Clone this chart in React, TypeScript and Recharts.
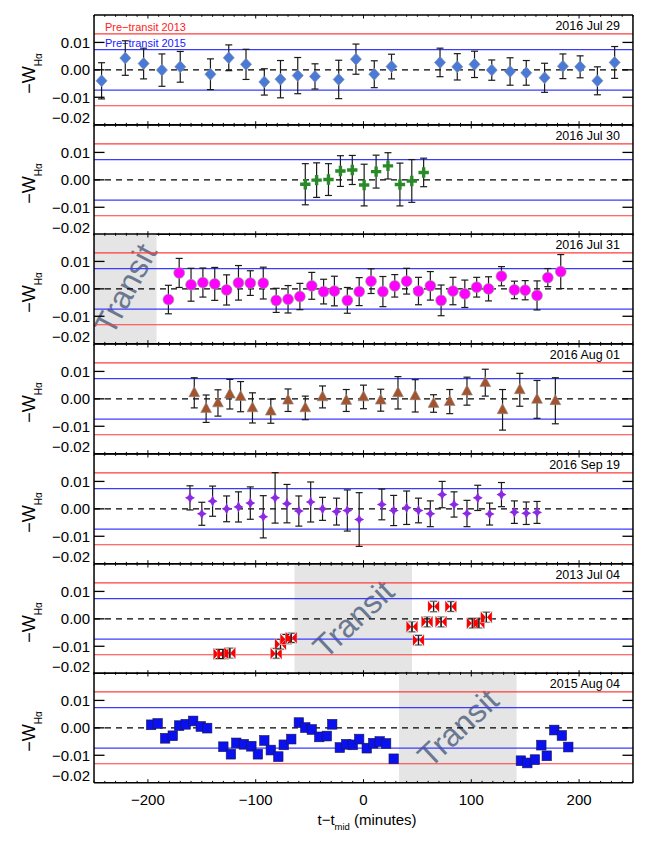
import React from "react";
import {
  ScatterChart,
  Scatter,
  XAxis,
  YAxis,
  ErrorBar,
  ReferenceLine,
  ReferenceArea,
  Label,
} from "recharts";

// ---------------- data ----------------
const TIME_DOMAIN = [-250, 250];
const WHA_DOMAIN = [-0.02, 0.02];
const TIME_MAJOR_TICKS = [-200, -100, 0, 100, 200];
const TIME_MAJOR_LABELS = ["\u2212200", "\u2212100", "0", "100", "200"];
const TIME_MINOR_TICKS = Array.from({ length: 51 }, (_, i) => -250 + 10 * i);
const WHA_TICKS = [-0.02, -0.01, 0, 0.01];
const WHA_TICK_LABELS = ["\u22120.02", "\u22120.01", "0.00", "0.01"];
const PRE_TRANSIT_2013 = 0.0131;
const PRE_TRANSIT_2015 = 0.0074;

const PANEL_TITLES = [
  "2016 Jul 29",
  "2016 Jul 30",
  "2016 Jul 31",
  "2016 Aug 01",
  "2016 Sep 19",
  "2013 Jul 04",
  "2015 Aug 04",
];

const JUL29_T = [-243, -221, -204, -187, -170, -142, -125, -109, -92, -77, -61, -45, -23, -7, 10, 26, 71, 87, 103, 119, 136, 151, 168, 185, 201, 217, 233];
const JUL29_W = [-0.004, 0.0043, 0.0023, -0.0001, 0.0011, -0.0016, 0.0044, 0.002, -0.0044, -0.0034, -0.0021, -0.0024, -0.0035, 0.0039, -0.0016, 0.0012, 0.0027, 0.0011, 0.002, -0.0001, -0.0006, -0.0011, -0.0029, 0.0013, 0.0011, -0.004, 0.0027];
const JUL29_E = [0.0066, 0.0063, 0.0056, 0.0059, 0.0056, 0.0056, 0.0047, 0.0055, 0.0048, 0.0068, 0.0066, 0.0046, 0.007, 0.0055, 0.0049, 0.0045, 0.0052, 0.0048, 0.0048, 0.0037, 0.005, 0.0045, 0.0053, 0.0045, 0.004, 0.0051, 0.0058];

const JUL30_T = [-54, -43.5, -32.5, -21.4, -10.4, 0.6, 11.7, 22.7, 33.8, 44.8, 55.8];
const JUL30_W = [-0.0016, -0.0001, 0.0001, 0.0032, 0.0036, -0.0019, 0.003, 0.0051, -0.0017, -0.0004, 0.0027];
const JUL30_E = [0.0075, 0.0063, 0.0058, 0.0056, 0.0053, 0.0076, 0.006, 0.0048, 0.0078, 0.0078, 0.0052];

const JUL31_T = [-181, -171, -160, -149, -138, -127, -116, -105, -93, -81, -70, -59, -48, -37, -27, -15, -4, 7, 18, 29, 40, 51, 62, 72, 83, 94, 105, 116, 128, 140, 150, 161, 171, 183];
const JUL31_W = [-0.0039, 0.0058, 0.0015, 0.0023, 0.0018, -0.0004, 0.0022, 0.0021, 0.0021, -0.0042, -0.0038, -0.0028, 0.0011, -0.001, -0.0008, -0.0042, -0.001, 0.0028, -0.001, 0.0011, 0.0028, -0.0008, 0.0011, -0.0042, -0.0008, -0.0018, 0.0006, 0.0, 0.0046, -0.0004, -0.0005, -0.0024, 0.0041, 0.0063];
const JUL31_E = [0.0052, 0.0053, 0.006, 0.0053, 0.006, 0.0055, 0.0063, 0.0045, 0.0058, 0.0044, 0.005, 0.0048, 0.0049, 0.0045, 0.0054, 0.0047, 0.0051, 0.0045, 0.0055, 0.0041, 0.0047, 0.005, 0.0052, 0.0056, 0.005, 0.005, 0.0036, 0.0044, 0.0035, 0.0032, 0.0035, 0.0053, 0.0033, 0.0062];

const AUG01_T = [-157, -146, -135, -124, -114, -103, -86, -70, -54, -38, -16, 0, 16, 32, 48, 65, 80, 96, 113, 129, 145, 161, 178];
const AUG01_W = [0.0022, -0.0036, -0.0015, 0.0017, 0.0008, -0.0033, -0.0045, -0.0005, -0.0033, 0.0007, -0.0006, 0.0007, -0.0005, 0.0022, 0.0011, -0.0017, -0.001, 0.0028, 0.0059, -0.004, 0.0033, -0.0002, -0.0007];
const AUG01_E = [0.0055, 0.005, 0.0048, 0.0054, 0.0055, 0.0055, 0.0044, 0.0041, 0.0043, 0.004, 0.004, 0.0043, 0.004, 0.0059, 0.0059, 0.0032, 0.0044, 0.0051, 0.0049, 0.0074, 0.006, 0.0069, 0.0084];

const SEP19_T = [-161, -150, -140, -127, -116, -105, -93, -82, -71, -60, -49, -38, -25, -15, -4, 17, 28, 40, 51, 62, 73, 84, 96, 106, 117, 128, 140, 151, 161];
const SEP19_W = [0.004, -0.0018, 0.0028, 0.0, 0.0007, 0.0021, -0.0029, 0.004, 0.0019, -0.0008, 0.0025, 0.0, -0.001, -0.0006, -0.0039, 0.0016, -0.0006, 0.0004, -0.0006, -0.0018, 0.0052, 0.0016, -0.0017, 0.004, -0.0019, 0.0052, -0.0012, -0.0016, -0.0013];
const SEP19_E = [0.0044, 0.0042, 0.0055, 0.0047, 0.0055, 0.0059, 0.0077, 0.0092, 0.007, 0.0055, 0.0073, 0.0042, 0.0049, 0.0075, 0.0098, 0.0056, 0.0055, 0.0061, 0.0045, 0.0047, 0.0048, 0.0046, 0.0048, 0.0046, 0.004, 0.0044, 0.0041, 0.0041, 0.004];

const JUL04_2013_T = [-134, -130.5, -124, -81, -77, -72, -67, 45, 51, 59, 65, 72, 81, 101, 107, 114];
const JUL04_2013_W = [-0.0128, -0.0128, -0.0125, -0.0126, -0.0093, -0.0074, -0.0069, -0.0029, -0.0078, -0.0011, 0.0045, -0.0011, 0.0045, -0.0016, -0.0015, 0.0006];
const JUL04_2013_E = [0.0017, 0.0017, 0.0019, 0.0018, 0.0018, 0.0017, 0.0017, 0.0019, 0.0018, 0.0019, 0.0019, 0.0019, 0.0018, 0.0018, 0.0019, 0.0019];

const AUG04_2015_T = [-197, -191, -184, -177, -171, -165, -158, -151, -145, -130, -123, -118, -111, -104, -98, -92, -86, -79, -74, -67, -60, -54, -48, -41, -34, -29, -22, -16, -10, -4, 3, 9, 15, 21, 28, 146, 152, 159, 165, 170, 177, 184, 190];
const AUG04_2015_W = [0.0011, 0.0016, -0.0038, -0.0029, 0.0008, 0.0013, 0.0025, 0.0005, -0.0001, -0.0069, -0.0096, -0.0055, -0.006, -0.0067, -0.0096, -0.0046, -0.0081, -0.0105, -0.0062, -0.0041, 0.0019, 0.0001, -0.0006, -0.0033, -0.003, 0.0013, -0.0072, -0.006, -0.0062, -0.0041, -0.0074, -0.0056, -0.005, -0.0057, -0.0113, -0.012, -0.0128, -0.0116, -0.0063, -0.0102, -0.0008, -0.0028, -0.007];

const TRANSIT_JUL31 = [-250, -192];
const TRANSIT_2013 = [-64, 45];
const TRANSIT_2015 = [33, 142];

// ---------------- layout ----------------
const FONT = "'Liberation Sans', Arial, Helvetica, sans-serif";
const CHART_W = 649;
const LEFT_AXIS_W = 94;
const RIGHT_MARGIN = 15;
const PLOT_TOP = 15;
const PANEL_H = 109.7;
const TOP_AX = 1;
const BOTTOM_AX_MID = 1;
const BOTTOM_AX_LAST = 64;

type Pt = { t: number; w: number; e?: number };
function build(t: number[], w: number[], e?: number[]): Pt[] {
  return t.map((tv, i) => ({ t: tv, w: w[i], e: e ? e[i] : undefined }));
}

// ---------------- marker shapes ----------------
const Diamond = (p: any) => {
  const { cx, cy } = p;
  return (
    <path
      d={`M${cx} ${cy - 6}L${cx + 5.5} ${cy}L${cx} ${cy + 6}L${cx - 5.5} ${cy}Z`}
      fill="#4a7ad8"
      stroke="#7d8aa3"
      strokeWidth={0.7}
    />
  );
};
const Plus = (p: any) => {
  const { cx, cy } = p;
  const a = 5.2, b = 1.7;
  return (
    <path
      d={`M${cx - b} ${cy - a}H${cx + b}V${cy - b}H${cx + a}V${cy + b}H${cx + b}V${cy + a}H${cx - b}V${cy + b}H${cx - a}V${cy - b}H${cx - b}Z`}
      fill="#2a8a2a"
    />
  );
};
const Dot = (p: any) => (
  <circle cx={p.cx} cy={p.cy} r={5.4} fill="#ff00ff" stroke="#999" strokeWidth={0.7} />
);
const Tri = (p: any) => {
  const { cx, cy } = p;
  return (
    <path
      d={`M${cx} ${cy - 6.2}L${cx + 5.4} ${cy + 3.9}L${cx - 5.4} ${cy + 3.9}Z`}
      fill="#a4532c"
      stroke="#8a8a8a"
      strokeWidth={0.6}
    />
  );
};
const Star = (p: any) => {
  const { cx, cy } = p;
  const h = 5.8, w = 5, k = 1.8;
  return (
    <path
      d={`M${cx} ${cy - h}L${cx + k} ${cy - k}L${cx + w} ${cy}L${cx + k} ${cy + k}L${cx} ${cy + h}L${cx - k} ${cy + k}L${cx - w} ${cy}L${cx - k} ${cy - k}Z`}
      fill="#8a2be2"
    />
  );
};
const Bowtie = (p: any) => {
  const { cx, cy } = p;
  const s = 5.5;
  return (
    <g>
      <rect x={cx - s} y={cy - s} width={2 * s} height={2 * s} fill="none" stroke="#c8c8c8" strokeWidth={0.8} />
      <path
        d={`M${cx - s} ${cy - s}L${cx - 0.6} ${cy}L${cx - s} ${cy + s}Z M${cx + s} ${cy - s}L${cx + 0.6} ${cy}L${cx + s} ${cy + s}Z`}
        fill="#ff0000"
      />
      <line x1={cx} x2={cx} y1={cy - s + 1} y2={cy + s - 1} stroke="#1a1a1a" strokeWidth={1.2} />
    </g>
  );
};
const Square = (p: any) => {
  const { cx, cy } = p;
  return (
    <rect x={cx - 4.7} y={cy - 4.9} width={9.4} height={9.8} fill="#0a10ee" stroke="#1a1a4a" strokeWidth={0.6} />
  );
};
const NoShape = () => <g />;

// ---------------- ticks ----------------
const makeBottomTick = (last: boolean) => (p: any) => {
  const { x, y, payload } = p;
  const idx = TIME_MAJOR_TICKS.indexOf(payload.value);
  const major = idx >= 0;
  return (
    <g>
      <line x1={x} x2={x} y1={y} y2={y - (major ? 3.5 : 1.8)} stroke="#000" strokeWidth={1} />
      {last && major && (
        <text x={x} y={y + 22} textAnchor="middle" fontSize={15} fontFamily={FONT} fill="#000">
          {TIME_MAJOR_LABELS[idx]}
        </text>
      )}
    </g>
  );
};
const TopTick = (p: any) => {
  const { x, y, payload } = p;
  const major = TIME_MAJOR_TICKS.indexOf(payload.value) >= 0;
  return <line x1={x} x2={x} y1={y} y2={y + (major ? 3.5 : 1.8)} stroke="#000" strokeWidth={1} />;
};
const LeftTick = (p: any) => {
  const { x, y, payload } = p;
  const idx = WHA_TICKS.indexOf(payload.value);
  const isBottom = payload.value === WHA_TICKS[0];
  return (
    <g>
      {!isBottom && <line x1={x} x2={x + 10.5} y1={y} y2={y} stroke="#000" strokeWidth={1.3} />}
      <text x={x - 4} y={isBottom ? y - 7 : y} dy="0.36em" textAnchor="end" fontSize={15} fontFamily={FONT} fill="#000">
        {WHA_TICK_LABELS[idx]}
      </text>
    </g>
  );
};
const RightTick = (p: any) => {
  const { x, y, payload } = p;
  if (payload.value === WHA_TICKS[0]) return <g />;
  return <line x1={x} x2={x - 10.5} y1={y} y2={y} stroke="#000" strokeWidth={1.3} />;
};

// ---------------- labels ----------------
const YTitle = () => {
  const cx = 35;
  const cy = TOP_AX + 58.5;
  return (
    <text x={cx} y={cy} transform={`rotate(-90 ${cx} ${cy})`} textAnchor="middle" fontFamily={FONT} fill="#000">
      <tspan fontSize={18}>{"\u2212W"}</tspan>
      <tspan fontSize={10} dy={7}>{"H\u03b1"}</tspan>
    </text>
  );
};
const makeDateTitle = (title: string) => () => (
  <text x={620} y={TOP_AX + 15.5} textAnchor="end" fontSize={12.5} fontFamily={FONT} fill="#000">
    {title}
  </text>
);
const XTitle = () => (
  <text x={367} y={TOP_AX + PANEL_H + 42} textAnchor="middle" fontSize={15} fontFamily={FONT} fill="#000">
    <tspan>{"t\u2212t"}</tspan>
    <tspan fontSize={9.5} dy={5}>mid</tspan>
    <tspan dy={-5}> (minutes)</tspan>
  </text>
);
const makeLegendLabel = (text: string, color: string) => (p: any) => {
  const vb = p.viewBox || {};
  return (
    <text x={(vb.x ?? LEFT_AXIS_W) + 11} y={(vb.y ?? 0) - 2.5} fontSize={11} fontFamily={FONT} fill={color}>
      {text}
    </text>
  );
};
const makeTransitLabel = (angle: number) => (p: any) => {
  const vb = p.viewBox || {};
  const cx = (vb.x ?? 0) + (vb.width ?? 0) / 2;
  const cy = (vb.y ?? 0) + (vb.height ?? 0) / 2;
  return (
    <text
      x={cx}
      y={cy}
      dy="0.35em"
      transform={`rotate(${angle} ${cx} ${cy})`}
      textAnchor="middle"
      fontSize={32}
      fontFamily={FONT}
      fill="#6a7890"
    >
      Transit
    </text>
  );
};

// ---------------- panels ----------------
type PanelCfg = {
  data: Pt[];
  shape: any;
  errors: boolean;
  transit?: number[];
  transitAngle?: number;
  legend?: boolean;
};

const PANELS: PanelCfg[] = [
  { data: build(JUL29_T, JUL29_W, JUL29_E), shape: Diamond, errors: true, legend: true },
  { data: build(JUL30_T, JUL30_W, JUL30_E), shape: Plus, errors: true },
  { data: build(JUL31_T, JUL31_W, JUL31_E), shape: Dot, errors: true, transit: TRANSIT_JUL31, transitAngle: -62 },
  { data: build(AUG01_T, AUG01_W, AUG01_E), shape: Tri, errors: true },
  { data: build(SEP19_T, SEP19_W, SEP19_E), shape: Star, errors: true },
  { data: build(JUL04_2013_T, JUL04_2013_W, JUL04_2013_E), shape: Bowtie, errors: true, transit: TRANSIT_2013, transitAngle: -43 },
  { data: build(AUG04_2015_T, AUG04_2015_W), shape: Square, errors: false, transit: TRANSIT_2015, transitAngle: -43 },
];

const AXIS_LINE = { stroke: "#000", strokeWidth: 1.5 };

function Panel({ index, cfg }: { index: number; cfg: PanelCfg }) {
  const last = index === PANELS.length - 1;
  const bottomH = last ? BOTTOM_AX_LAST : BOTTOM_AX_MID;
  const h = TOP_AX + PANEL_H + bottomH;
  const top = PLOT_TOP + index * PANEL_H - TOP_AX;
  return (
    <div style={{ position: "absolute", left: 0, top, width: CHART_W, height: h }}>
      <ScatterChart width={CHART_W} height={h} margin={{ top: 0, right: RIGHT_MARGIN, bottom: 0, left: 0 }}>
        <XAxis
          xAxisId="b"
          type="number"
          dataKey="t"
          orientation="bottom"
          domain={TIME_DOMAIN}
          allowDataOverflow
          ticks={TIME_MINOR_TICKS}
          interval={0}
          height={bottomH}
          axisLine={AXIS_LINE}
          tickLine={false}
          tickSize={0}
          tickMargin={0}
          tick={makeBottomTick(last)}
        >
          {last && <Label content={XTitle} />}
        </XAxis>
        <XAxis
          xAxisId="t"
          type="number"
          dataKey="t"
          orientation="top"
          domain={TIME_DOMAIN}
          allowDataOverflow
          ticks={TIME_MINOR_TICKS}
          interval={0}
          height={TOP_AX}
          axisLine={AXIS_LINE}
          tickLine={false}
          tickSize={0}
          tickMargin={0}
          tick={TopTick}
        >
          <Label content={makeDateTitle(PANEL_TITLES[index])} />
        </XAxis>
        <YAxis
          yAxisId="l"
          type="number"
          dataKey="w"
          orientation="left"
          domain={WHA_DOMAIN}
          allowDataOverflow
          ticks={WHA_TICKS}
          interval={0}
          width={LEFT_AXIS_W}
          axisLine={AXIS_LINE}
          tickLine={false}
          tickSize={0}
          tickMargin={0}
          tick={LeftTick}
        >
          <Label content={YTitle} />
        </YAxis>
        <YAxis
          yAxisId="r"
          type="number"
          dataKey="w"
          orientation="right"
          domain={WHA_DOMAIN}
          allowDataOverflow
          ticks={WHA_TICKS}
          interval={0}
          width={1}
          axisLine={AXIS_LINE}
          tickLine={false}
          tickSize={0}
          tickMargin={0}
          tick={RightTick}
        />
        {cfg.transit && (
          <ReferenceArea
            xAxisId="b"
            yAxisId="l"
            x1={cfg.transit[0]}
            x2={cfg.transit[1]}
            y1={WHA_DOMAIN[0]}
            y2={WHA_DOMAIN[1]}
            fill="#e5e5e5"
            fillOpacity={1}
            stroke="none"
            label={makeTransitLabel(cfg.transitAngle || -45)}
          />
        )}
        <ReferenceLine
          xAxisId="b"
          yAxisId="l"
          y={PRE_TRANSIT_2013}
          stroke="#ff3b3b"
          strokeWidth={1.2}
          label={cfg.legend ? makeLegendLabel("Pre\u2212transit 2013", "#ff2020") : undefined}
        />
        <ReferenceLine
          xAxisId="b"
          yAxisId="l"
          y={PRE_TRANSIT_2015}
          stroke="#3b3bff"
          strokeWidth={1.2}
          label={cfg.legend ? makeLegendLabel("Pre\u2212transit 2015", "#2020ff") : undefined}
        />
        <ReferenceLine xAxisId="b" yAxisId="l" y={-PRE_TRANSIT_2015} stroke="#3b3bff" strokeWidth={1.2} />
        <ReferenceLine xAxisId="b" yAxisId="l" y={-PRE_TRANSIT_2013} stroke="#ff3b3b" strokeWidth={1.2} />
        <ReferenceLine xAxisId="b" yAxisId="l" y={0} stroke="#000" strokeWidth={1.3} strokeDasharray="6 5" />
        {cfg.errors && (
          <Scatter
            xAxisId="b"
            yAxisId="l"
            data={cfg.data}
            dataKey="w"
            shape={NoShape}
            isAnimationActive={false}
          >
            <ErrorBar dataKey="e" direction="y" width={3.5} stroke="#1a1a1a" strokeWidth={1.2} />
          </Scatter>
        )}
        <Scatter
          xAxisId="b"
          yAxisId="l"
          data={cfg.data}
          dataKey="w"
          shape={cfg.shape}
          isAnimationActive={false}
        />
      </ScatterChart>
    </div>
  );
}

export default function App() {
  return (
    <div
      style={{
        position: "absolute",
        left: 0,
        top: 0,
        width: CHART_W,
        height: 849,
        background: "#fff",
        fontFamily: FONT,
      }}
    >
      {PANELS.map((cfg, i) => (
        <Panel key={i} index={i} cfg={cfg} />
      ))}
    </div>
  );
}
